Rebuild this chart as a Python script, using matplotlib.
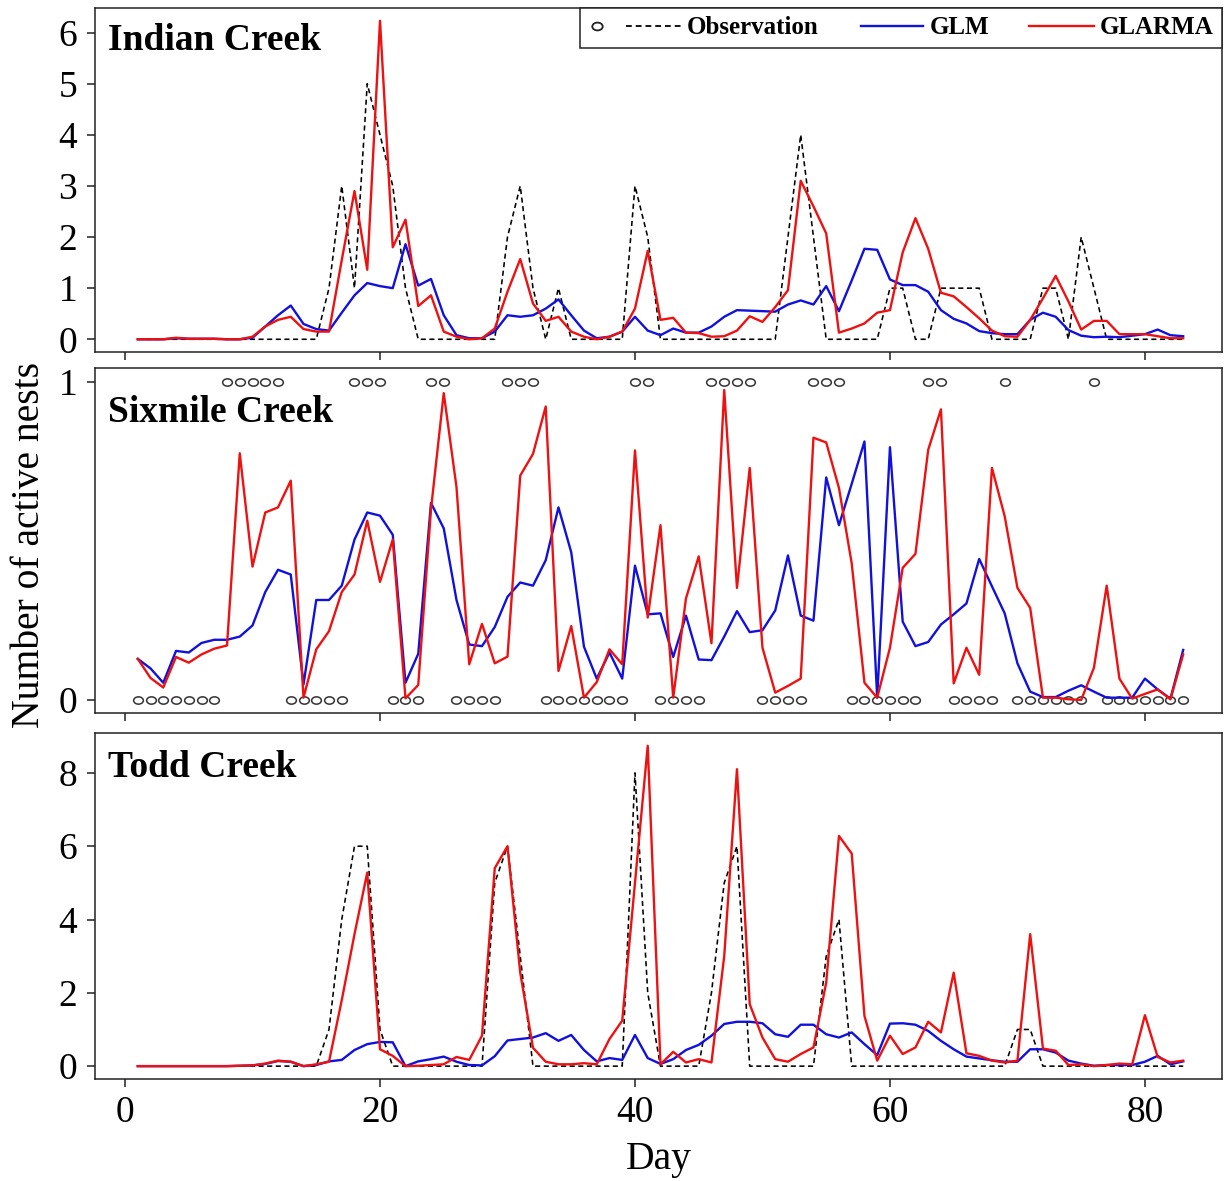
import matplotlib
matplotlib.use('Agg')
import matplotlib.pyplot as plt
from matplotlib.lines import Line2D
from matplotlib.path import Path
from matplotlib.legend_handler import HandlerBase

plt.rcParams['font.family'] = ['Liberation Serif', 'DejaVu Serif']

DAYS = list(range(1, 84))

# Indian Creek
ic_obs = [0, 0, 0, 0, 0, 0, 0, 0, 0, 0,
          0, 0, 0, 0, 0, 1, 3, 1, 5, 4,
          3, 1, 0, 0, 0, 0, 0, 0, 0, 2,
          3, 1, 0, 1, 0, 0, 0, 0, 0, 3,
          2, 0, 0, 0, 0, 0, 0, 0, 0, 0,
          0, 2, 4, 2, 0, 0, 0, 0, 0, 1,
          1, 0, 0, 1, 1, 1, 1, 0, 0, 0,
          0, 1, 1, 0, 2, 1, 0, 0, 0, 0,
          0, 0, 0]
ic_glm = [0.0, 0.0, 0.0, 0.02, 0.01, 0.01, 0.01, 0.0, 0.0, 0.03,
          0.25, 0.47, 0.66, 0.3, 0.2, 0.17, 0.52, 0.86, 1.1, 1.04,
          1.0, 1.86, 1.05, 1.18, 0.47, 0.08, 0.02, 0.02, 0.15, 0.47,
          0.44, 0.47, 0.6, 0.78, 0.47, 0.17, 0.02, 0.05, 0.15, 0.44,
          0.17, 0.08, 0.21, 0.13, 0.13, 0.25, 0.44, 0.57, 0.56, 0.55,
          0.54, 0.68, 0.76, 0.68, 1.04, 0.55, 1.15, 1.77, 1.75, 1.17,
          1.06, 1.06, 0.93, 0.57, 0.4, 0.31, 0.16, 0.12, 0.1, 0.1,
          0.38, 0.52, 0.44, 0.18, 0.07, 0.04, 0.05, 0.04, 0.07, 0.1,
          0.19, 0.08, 0.06]
ic_glarma = [0.0, 0.0, 0.0, 0.03, 0.01, 0.01, 0.01, 0.0, 0.0, 0.05,
             0.25, 0.38, 0.44, 0.2, 0.15, 0.15, 1.55, 2.9, 1.36, 6.23,
             1.8, 2.34, 0.65, 0.86, 0.15, 0.05, 0.0, 0.02, 0.21, 0.93,
             1.57, 0.7, 0.36, 0.44, 0.15, 0.05, 0.0, 0.05, 0.15, 0.6,
             1.73, 0.38, 0.42, 0.13, 0.12, 0.05, 0.06, 0.17, 0.45, 0.34,
             0.63, 0.96, 3.1, 2.6, 2.07, 0.13, 0.21, 0.31, 0.52, 0.57,
             1.7, 2.37, 1.77, 0.91, 0.84, 0.63, 0.41, 0.17, 0.06, 0.05,
             0.38, 0.8, 1.24, 0.74, 0.19, 0.36, 0.36, 0.1, 0.1, 0.1,
             0.06, 0.02, 0.02]

# Sixmile Creek (presence / absence)
sm_obs = [0, 0, 0, 0, 0, 0, 0, 1, 1, 1,
          1, 1, 0, 0, 0, 0, 0, 1, 1, 1,
          0, 0, 0, 1, 1, 0, 0, 0, 0, 1,
          1, 1, 0, 0, 0, 0, 0, 0, 0, 1,
          1, 0, 0, 0, 0, 1, 1, 1, 1, 0,
          0, 0, 0, 1, 1, 1, 0, 0, 0, 0,
          0, 0, 1, 1, 0, 0, 0, 0, 1, 0,
          0, 0, 0, 0, 0, 1, 0, 0, 0, 0,
          0, 0, 0]
sm_glm = [0.13, 0.10, 0.055, 0.155, 0.15, 0.18, 0.19, 0.19, 0.2, 0.235,
          0.34, 0.41, 0.395, 0.05, 0.315, 0.315, 0.36, 0.505, 0.59, 0.58,
          0.52, 0.055, 0.146, 0.62, 0.54, 0.315, 0.175, 0.17, 0.23, 0.325,
          0.37, 0.36, 0.44, 0.606, 0.465, 0.168, 0.068, 0.15, 0.068, 0.423,
          0.27, 0.273, 0.136, 0.266, 0.128, 0.126, 0.2, 0.28, 0.214, 0.22,
          0.282, 0.455, 0.266, 0.25, 0.70, 0.55, 0.68, 0.813, 0.008, 0.795,
          0.247, 0.17, 0.183, 0.238, 0.27, 0.304, 0.444, 0.358, 0.273, 0.116,
          0.027, 0.01, 0.01, 0.03, 0.047, 0.027, 0.008, 0.008, 0.008, 0.068,
          0.034, 0.005, 0.158]
sm_glarma = [0.13, 0.07, 0.04, 0.136, 0.118, 0.144, 0.162, 0.172, 0.776, 0.42,
             0.59, 0.606, 0.69, 0.008, 0.16, 0.217, 0.34, 0.395, 0.564, 0.372,
             0.505, 0.006, 0.048, 0.6, 0.965, 0.67, 0.113, 0.24, 0.116, 0.137,
             0.706, 0.774, 0.923, 0.092, 0.233, 0.008, 0.057, 0.16, 0.113, 0.785,
             0.26, 0.55, 0.008, 0.32, 0.452, 0.179, 0.975, 0.353, 0.73, 0.165,
             0.024, 0.045, 0.068, 0.825, 0.81, 0.667, 0.43, 0.055, 0.008, 0.165,
             0.416, 0.46, 0.787, 0.914, 0.053, 0.165, 0.08, 0.73, 0.578, 0.353,
             0.29, 0.008, 0.008, 0.003, 0.001, 0.102, 0.36, 0.068, 0.005, 0.02,
             0.034, 0.003, 0.144]

# Todd Creek
tc_obs = [0, 0, 0, 0, 0, 0, 0, 0, 0, 0,
          0, 0, 0, 0, 0, 1, 4, 6, 6, 1,
          0, 0, 0, 0, 0, 0, 0, 0, 5, 6,
          3, 0, 0, 0, 0, 0, 0, 0, 0, 8,
          2, 0, 0, 0, 0, 2, 5, 6, 0, 0,
          0, 0, 0, 0, 3, 4, 0, 0, 0, 0,
          0, 0, 0, 0, 0, 0, 0, 0, 0, 1,
          1, 0, 0, 0, 0, 0, 0, 0, 0, 0,
          0, 0, 0]
tc_glm = [0.0, 0.0, 0.0, 0.0, 0.0, 0.0, 0.0, 0.0, 0.01, 0.02,
          0.06, 0.14, 0.12, 0.0, 0.03, 0.13, 0.17, 0.44, 0.6, 0.66,
          0.65, 0.0, 0.13, 0.19, 0.26, 0.12, 0.03, 0.02, 0.27, 0.7,
          0.74, 0.78, 0.9, 0.69, 0.85, 0.44, 0.13, 0.22, 0.17, 0.85,
          0.22, 0.06, 0.19, 0.44, 0.58, 0.83, 1.15, 1.21, 1.21, 1.17,
          0.87, 0.8, 1.13, 1.13, 0.87, 0.78, 0.92, 0.6, 0.3, 1.16,
          1.17, 1.13, 0.96, 0.69, 0.46, 0.26, 0.21, 0.16, 0.12, 0.12,
          0.46, 0.46, 0.37, 0.15, 0.07, 0.01, 0.03, 0.03, 0.03, 0.12,
          0.28, 0.05, 0.13]
tc_glarma = [0.0, 0.0, 0.0, 0.0, 0.0, 0.0, 0.0, 0.0, 0.01, 0.02,
             0.07, 0.15, 0.12, 0.0, 0.05, 0.12, 1.8, 3.6, 5.28, 0.46,
             0.28, 0.0, 0.01, 0.03, 0.05, 0.25, 0.17, 0.83, 5.4, 6.0,
             2.55, 0.5, 0.12, 0.05, 0.05, 0.08, 0.05, 0.74, 1.24, 5.0,
             8.74, 0.05, 0.39, 0.1, 0.19, 0.1, 3.0, 8.1, 1.69, 0.78,
             0.19, 0.12, 0.33, 0.51, 2.28, 6.28, 5.8, 1.37, 0.15, 0.83,
             0.33, 0.51, 1.21, 0.92, 2.55, 0.35, 0.28, 0.15, 0.1, 0.15,
             3.6, 0.48, 0.42, 0.03, 0.05, 0.0, 0.03, 0.07, 0.05, 1.39,
             0.25, 0.1, 0.15]

RED = '#ee1111'
BLUE = '#1111dd'
OBS_DASH = (0, (3.2, 2.2))
_circ = Path.unit_circle()
OVAL = Path(_circ.vertices * [1.0, 0.75], _circ.codes)


class ObsHandler(HandlerBase):
    # open circle on the left, dashed line on the right (as in the R legend)
    def create_artists(self, legend, orig_handle, xdescent, ydescent,
                       width, height, fontsize, trans):
        y = height / 2 - ydescent
        x0 = -xdescent
        dot = Line2D([x0 + 0.09 * width], [y], ls='none', marker=OVAL, ms=7.5,
                     mfc='none', mec='#222222', mew=1.3, transform=trans)
        dash = Line2D([x0 + 0.41 * width, x0 + width], [y, y], color='black',
                      ls=OBS_DASH, lw=1.3, transform=trans)
        return [dot, dash]


class ShortLine(HandlerBase):
    def __init__(self, frac):
        super().__init__()
        self.frac = frac

    def create_artists(self, legend, orig_handle, xdescent, ydescent,
                       width, height, fontsize, trans):
        y = height / 2 - ydescent
        x0 = -xdescent
        ln = Line2D([x0 + (1 - self.frac) * width, x0 + width], [y, y],
                    color=orig_handle.get_color(), lw=orig_handle.get_linewidth(),
                    transform=trans)
        return [ln]


fig = plt.figure(figsize=(12.25, 11.81), dpi=100)


def panel(pos, title, title_y, obs, glm, glarma, ylim, yticks, dots=False, xlabels=False):
    ax = fig.add_axes(pos)
    if dots:
        ax.plot(DAYS, obs, ls='none', marker=OVAL, ms=7, mfc='none',
                mec='#333333', mew=1.1)
    else:
        ax.plot(DAYS, obs, color='black', ls=OBS_DASH, lw=1.15)
    l_glm, = ax.plot(DAYS, glm, color=BLUE, lw=1.7)
    l_glarma, = ax.plot(DAYS, glarma, color=RED, lw=1.7)

    ax.set_xlim(-2.35, 86.05)
    ax.set_ylim(*ylim)
    ax.set_xticks([0, 20, 40, 60, 80])
    ax.set_yticks(yticks)
    ax.tick_params(axis='both', direction='out', length=6, width=1.1,
                   labelsize=27, color='#222222')
    ax.tick_params(axis='y', pad=7)
    ax.tick_params(axis='x', pad=6, labelbottom=xlabels)
    for s in ax.spines.values():
        s.set_linewidth(1.1)
        s.set_color('#222222')
    ax.text(0.0115, title_y, title, transform=ax.transAxes, fontsize=27,
            fontweight='bold', ha='left', va='baseline')
    return ax, l_glm, l_glarma


ax1, glm_line, glarma_line = panel([0.0776, 0.7019, 0.920, 0.2913], 'Indian Creek', 0.878,
                                   ic_obs, ic_glm, ic_glarma, (-0.25, 6.48), range(0, 7))
ax2, _, _ = panel([0.0776, 0.3963, 0.920, 0.2921], 'Sixmile Creek', 0.843,
                  sm_obs, sm_glm, sm_glarma, (-0.04, 1.044), [0, 1], dots=True)
ax3, _, _ = panel([0.0776, 0.0864, 0.920, 0.2930], 'Todd Creek', 0.873,
                  tc_obs, tc_glm, tc_glarma, (-0.35, 9.09), [0, 2, 4, 6, 8], xlabels=True)

obs_proxy = Line2D([], [], color='black')
leg = ax1.legend([obs_proxy, glm_line, glarma_line], ['Observation', 'GLM', 'GLARMA'],
                 handler_map={obs_proxy: ObsHandler(), glm_line: ShortLine(0.67),
                              glarma_line: ShortLine(0.70)},
                 loc='upper right', bbox_to_anchor=(1, 1), borderaxespad=0, ncol=3,
                 handlelength=3.7, handletextpad=0.25, columnspacing=0.48,
                 borderpad=0.33, fancybox=False, framealpha=1, edgecolor='#222222',
                 prop=dict(family='Liberation Serif', weight='bold', size=18))
leg.get_frame().set_linewidth(1.1)

ax3.set_xlabel('Day', fontsize=28.5, labelpad=8)
fig.text(0.024, 0.5385, 'Number of active nests', rotation=90, ha='center',
         va='center', fontsize=28.5)

fig.savefig('out.png', dpi=100)
